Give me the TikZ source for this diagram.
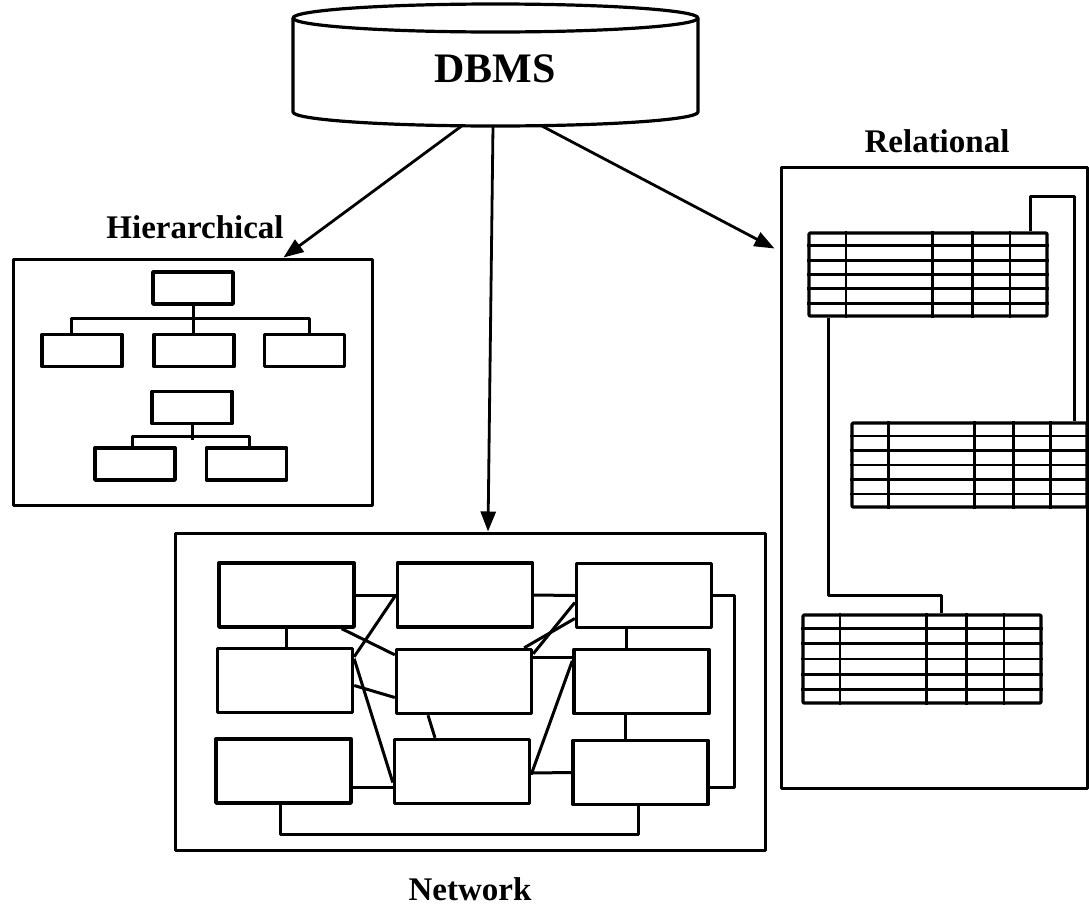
\documentclass[tikz,border=0pt]{standalone}
\usepackage{fontspec}
\setmainfont{Liberation Serif}
\usetikzlibrary{arrows.meta,calc}

% grid lines of a relational table node: four column rules, five row rules
\newcommand\relgrid[1]{%
  \foreach \f in {0.16,0.52,0.683,0.84}
    \draw[cell] ($(#1.north west)!\f!(#1.north east)$) -- ($(#1.south west)!\f!(#1.south east)$);
  \foreach \k in {1,...,5}
    \draw[cell] ($(#1.north west)!{\k/6}!(#1.south west)$) -- ($(#1.north east)!{\k/6}!(#1.south east)$);
}

\begin{document}
\begin{tikzpicture}[x=1pt,y=-1pt,
  frame/.style={draw, line width=3pt, inner sep=0pt},
  hbox/.style={draw, line width=3.4pt, inner sep=0pt, minimum width=80pt, minimum height=32pt},
  nbox/.style={draw, line width=3.4pt, inner sep=0pt, minimum width=135pt, minimum height=64pt},
  tbl/.style={draw, line width=3.2pt, inner sep=0pt, rounded corners=1pt},
  cell/.style={line width=2.8pt},
  link/.style={line width=3pt},
  arr/.style={line width=2.8pt, -{Triangle[length=20pt,width=15pt]}},
  lbl/.style={font=\fontsize{33}{33}\selectfont\bfseries, inner sep=0pt, anchor=base},
  line join=round]

\useasboundingbox (0,0) rectangle (1089,908);
\fill[white] (0,0) rectangle (1089,908);

% ---------- DBMS cylinder ----------
\draw[line width=3.2pt] (495.5,18) ellipse [x radius=202.5pt, y radius=14pt];
\draw[line width=3.2pt] (293,18) -- (293,112)
   arc[start angle=180, end angle=360, x radius=202.5pt, y radius=14pt] -- (698,18);
\node[font=\fontsize{42}{42}\selectfont\bfseries, inner sep=0pt, anchor=base] (dbms) at (495,82) {DBMS};
\coordinate (dbl) at (463,125);
\coordinate (dbm) at (493,126);
\coordinate (dbr) at (540,125);

% ---------- model frames and their titles ----------
\node[frame, minimum width=359pt, minimum height=246pt] (hier) at (192.5,382) {};
\node[frame, minimum width=590pt, minimum height=317pt] (net) at (470,691.5) {};
\node[frame, minimum width=306pt, minimum height=621pt] (rel) at (934,477.5) {};

\node[lbl] (thier) at (195,238) {Hierarchical};
\node[lbl] (trel) at (937,152) {Relational};
\node[lbl] (tnet) at (470,900) {Network};

% ---------- arrows from the DBMS ----------
\coordinate (relin) at ([xshift=-5pt,yshift=-83pt]rel.north west);
\draw[arr] (dbl) -- ([xshift=-90pt]hier.north east);
\draw[arr] (dbm) -- ([xshift=18pt]net.north);
\draw[arr] (dbr) -- (relin);

% ---------- hierarchical trees ----------
\node[hbox] (h0) at (193,288) {};
\node[hbox] (h1) at (82,350.5) {};
\node[hbox] (h2) at (194,350.5) {};
\node[hbox] (h3) at (304.5,350.5) {};
\node[hbox] (h4) at (192,407.5) {};
\node[hbox] (h5) at (135,464) {};
\node[hbox] (h6) at (246.5,464) {};

\draw[link] (h0.south) -- (h0.south |- h2.north);
\draw[link] ([xshift=-11pt]h1.north) -- ++(0,-14.5) -| ([xshift=4.5pt]h3.north);
\draw[link] (h4.south) -- ++(0,14.5);
\draw[link] ([xshift=-3pt]h5.north) -- ++(0,-10) -| ([xshift=2.5pt]h6.north);

% ---------- network of records ----------
\node[nbox] (n11) at (286.5,595) {};
\node[nbox] (n12) at (465,595) {};
\node[nbox] (n13) at (644,595.5) {};
\node[nbox] (n21) at (285,680.5) {};
\node[nbox] (n22) at (464,681.5) {};
\node[nbox] (n23) at (641.5,681.5) {};
\node[nbox] (n31) at (283.5,771) {};
\node[nbox] (n32) at (462,771.5) {};
\node[nbox] (n33) at (640.5,772.5) {};

\draw[link] (n11.east) -- (n12.west);
\draw[link] (n12.east) -- (n13.west);
\draw[link] (n11.south) -- (n11.south |- n21.north);
\draw[link] ([xshift=-14pt]n11.south east) -- ([yshift=-7pt]n22.north west);
\draw[link] (n12.west) -- ([yshift=-10pt]n21.north east);
\draw[link] ([yshift=-5pt]n21.east) -- ([yshift=-16pt]n22.west);
\draw[link] ([yshift=-12pt]n21.north east) -- ([yshift=-11pt]n32.west);
\draw[link] ([xshift=-36pt]n22.south) -- ([xshift=-27pt]n32.north);
\draw[link] ([yshift=-16pt]n31.east) -- ([yshift=-15.5pt]n32.west);
\draw[link] ([xshift=-3.5pt]n31.south) -- ++(0,30) -| ([xshift=-2.5pt]n33.south);
\draw[link] ([xshift=-9pt]n22.north east) -- ([yshift=-23pt]n13.west);
\draw[link] ([yshift=-6pt]n22.north east) -- ([yshift=-7pt]n13.west);
\draw[link] ([yshift=-10pt]n22.north east) -- ([yshift=-10pt]n23.north west);
\draw[link] ([yshift=-13pt]n23.north west) -- ([yshift=-3pt]n32.east);
\draw[link] ([yshift=-1.5pt]n32.east) -- (n33.west);
\draw[link] ([xshift=-18pt]n13.south) -- ([xshift=-18pt]n13.south |- n23.north);
\draw[link] ([xshift=-16.5pt]n23.south) -- ([xshift=-16.5pt]n23.south |- n33.north);
\draw[link] (n13.east) -- ++(21,0) |- ([yshift=-14.5pt]n33.east);

% ---------- relational tables ----------
\node[tbl, minimum width=238pt, minimum height=83pt] (t1) at (928,274.5) {};
\node[tbl, minimum width=235pt, minimum height=84pt] (t2) at (969.5,465) {};
\node[tbl, minimum width=238pt, minimum height=88pt] (t3) at (922,659) {};
\relgrid{t1}
\relgrid{t2}
\relgrid{t3}

\draw[link] ([xshift=-18pt]t1.north east) -- ++(0,-35) -| ([xshift=-14pt]t2.north east);
\draw[link] ([xshift=21pt]t1.south west) |- ([xshift=140pt,yshift=18pt]t3.north west)
   -- ([xshift=140pt]t3.north west);

\end{tikzpicture}
\end{document}
